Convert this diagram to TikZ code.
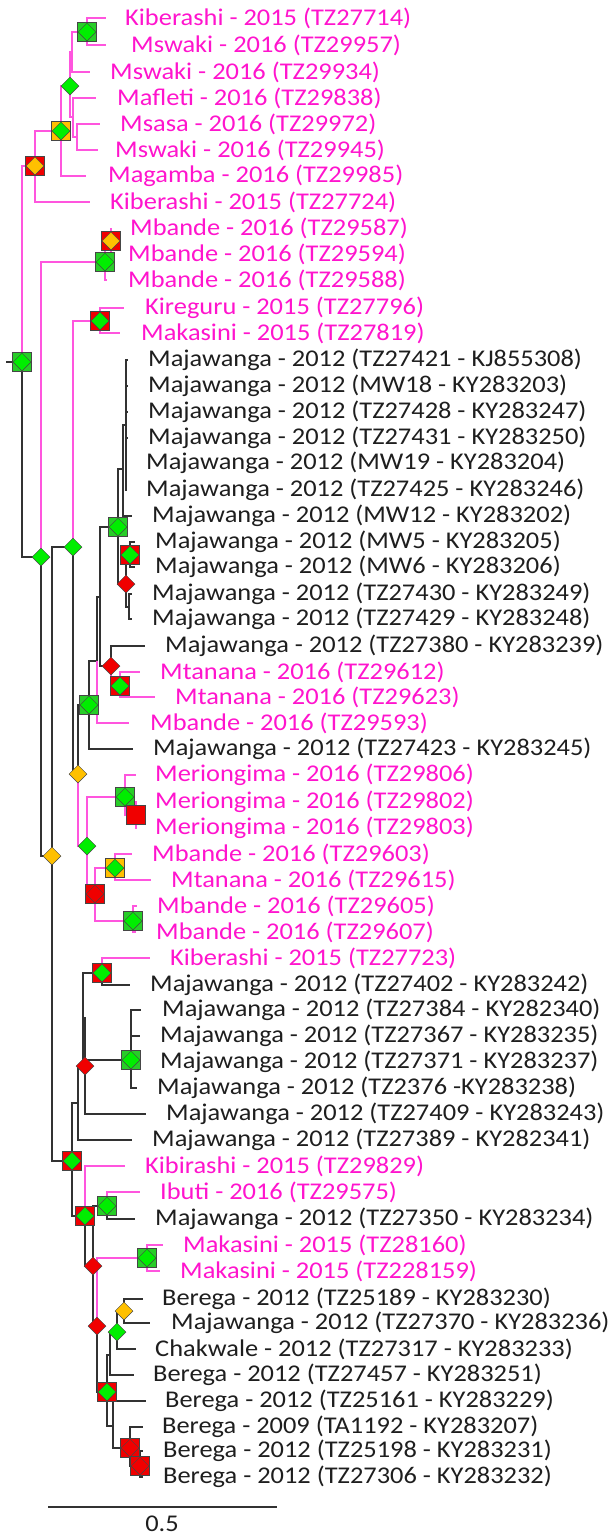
\documentclass[tikz,border=0pt]{standalone}
\usepackage{fontspec}
\setmainfont{Carlito}
\usetikzlibrary{shapes.geometric}
\definecolor{linegray}{RGB}{50,50,50}
\definecolor{textgray}{RGB}{30,30,30}
\definecolor{linepink}{RGB}{255,85,222}
\definecolor{textpink}{RGB}{255,20,205}
\definecolor{sqgreen}{RGB}{40,205,40}
\definecolor{dmgreen}{RGB}{0,238,0}
\definecolor{mkred}{RGB}{240,0,0}
\definecolor{mkorange}{RGB}{255,192,0}
\definecolor{mkedge}{RGB}{70,70,70}
\tikzset{
  blkline/.style={draw=linegray, line width=1.5pt},
  pnkline/.style={draw=linepink, line width=1.7pt},
  blktext/.style={text=textgray},
  pnktext/.style={text=textpink},
  labfont/.style={font=\fontsize{24}{28}\selectfont, xscale=1.1},
  lab/.style={anchor=west, inner sep=0pt, labfont},
  sqmark/.style={rectangle, draw=mkedge, line width=0.5pt, minimum size=19pt, inner sep=0pt},
  dmmark/.style={diamond, draw=mkedge, line width=0.5pt, minimum size=18pt, inner sep=0pt},
}
% tip: name, end x, y, label x, parent, colour key, text
\newcommand{\tip}[7]{%
  \coordinate (#1) at (#2,#3);
  \draw[#6line] (#5) |- (#1);
  \node[lab,#6text] (#1-l) at (#4,#3) {#7};}
% branch from parent to child
\newcommand{\br}[3]{\draw[#3line] (#1) |- (#2);}
% node symbols
\newcommand{\sqm}[2]{\node[sqmark,fill=#2] (#1-sq) at (#1) {};}
\newcommand{\dmm}[2]{\node[dmmark,fill=#2] (#1-dm) at (#1) {};}
\begin{document}
\begin{tikzpicture}[x=1pt,y=-1pt]
\useasboundingbox (0,0) rectangle (612,1537);
% internal nodes
\coordinate (rootstub) at (6,362);
\coordinate (root) at (22,362);
\coordinate (A) at (35,166);
\coordinate (A1) at (61,131);
\coordinate (A1a) at (70,86);
\coordinate (Aup) at (72,52);
\coordinate (K) at (87,32);
\coordinate (Alow) at (73,117);
\coordinate (Alow2) at (77,137);
\coordinate (B) at (41,557);
\coordinate (B1) at (105,262);
\coordinate (B1a) at (111,241);
\coordinate (B2) at (52,856);
\coordinate (B2a) at (73,547);
\coordinate (C1) at (100,321);
\coordinate (C2) at (78,774);
\coordinate (P) at (89,705);
\coordinate (Q) at (97,661);
\coordinate (R) at (100,597);
\coordinate (S) at (111,666);
\coordinate (M) at (120,686);
\coordinate (T) at (118,527);
\coordinate (U) at (123,469);
\coordinate (U1) at (126,425);
\coordinate (V) at (126,584);
\coordinate (W) at (130,555);
\coordinate (X) at (129,607);
\coordinate (D) at (87,846);
\coordinate (D1) at (125,797);
\coordinate (E) at (136,815);
\coordinate (D2) at (95,894);
\coordinate (F) at (115,868);
\coordinate (G) at (133,921);
\coordinate (B2b) at (72,1161);
\coordinate (H) at (78,1103);
\coordinate (Z) at (85,1066);
\coordinate (Z1) at (83,1018);
\coordinate (J) at (102,973);
\coordinate (L) at (131,1060);
\coordinate (I) at (85,1216);
\coordinate (I2) at (93,1266);
\coordinate (IB) at (107,1206);
\coordinate (I3) at (97,1326);
\coordinate (MK) at (147,1258);
\coordinate (I4) at (107,1392);
\coordinate (N5) at (110,1355);
\coordinate (GD) at (117,1332);
\coordinate (O) at (124,1311);
\coordinate (N6) at (113,1426);
\coordinate (N7) at (130,1448);
\coordinate (N8) at (140,1466);
% internal branches
\draw[blkline] (rootstub) -- (root);
\br{root}{A}{pnk} \br{root}{B}{blk}
\br{A}{A1}{pnk} \br{A1}{A1a}{pnk} \br{A1a}{Aup}{pnk} \br{A1a}{Alow}{pnk}
\br{Aup}{K}{pnk} \br{Alow}{Alow2}{pnk}
\br{B}{B1}{pnk} \br{B}{B2}{blk} \br{B1}{B1a}{pnk}
\br{B2}{B2a}{blk} \br{B2}{B2b}{blk}
\br{B2a}{C1}{pnk} \br{B2a}{C2}{blk}
\br{C2}{P}{blk} \br{C2}{D}{pnk}
\br{P}{Q}{blk} \br{Q}{R}{blk} \br{R}{T}{blk} \br{R}{S}{blk} \br{S}{M}{pnk}
\br{T}{U}{blk} \br{T}{V}{blk} \br{U}{U1}{blk} \br{V}{W}{blk} \br{V}{X}{blk}
\br{D}{D1}{pnk} \br{D}{D2}{pnk} \br{D1}{E}{pnk} \br{D2}{F}{pnk} \br{D2}{G}{pnk}
\br{B2b}{H}{blk} \br{B2b}{I}{blk} \br{H}{Z}{blk} \br{Z}{Z1}{blk}
\br{Z1}{J}{blk} \br{Z1}{L}{blk}
\br{I}{I2}{blk} \br{I2}{IB}{blk} \br{I2}{I3}{blk} \br{I3}{MK}{pnk} \br{I3}{I4}{blk}
\br{I4}{N5}{blk} \br{I4}{N6}{blk} \br{N5}{GD}{blk} \br{GD}{O}{blk}
\br{N6}{N7}{blk} \br{N7}{N8}{blk}
% tips
\tip{t1}{106}{18}{125}{K}{pnk}{Kiberashi - 2015 (TZ27714)}
\tip{t2}{106}{45}{131}{K}{pnk}{Mswaki - 2016 (TZ29957)}
\tip{t3}{90}{72}{110}{Aup}{pnk}{Mswaki - 2016 (TZ29934)}
\tip{t4}{96}{98}{117}{Alow}{pnk}{Mafleti - 2016 (TZ29838)}
\tip{t5}{100}{124}{120}{Alow2}{pnk}{Msasa - 2016 (TZ29972)}
\tip{t6}{98}{150}{115}{Alow2}{pnk}{Mswaki - 2016 (TZ29945)}
\tip{t7}{86}{176}{108}{A1}{pnk}{Magamba - 2016 (TZ29985)}
\tip{t8}{90}{202}{110}{A}{pnk}{Kiberashi - 2015 (TZ27724)}
\tip{t9}{111}{228}{130}{B1a}{pnk}{Mbande - 2016 (TZ29587)}
\tip{t10}{111}{254}{128}{B1a}{pnk}{Mbande - 2016 (TZ29594)}
\tip{t11}{107}{280}{128}{B1}{pnk}{Mbande - 2016 (TZ29588)}
\tip{t12}{124}{308}{145}{C1}{pnk}{Kireguru - 2015 (TZ27796)}
\tip{t13}{120}{333}{141}{C1}{pnk}{Makasini - 2015 (TZ27819)}
\tip{t14}{128}{360}{148}{U1}{blk}{Majawanga - 2012 (TZ27421 - KJ855308)}
\tip{t15}{128}{386}{148}{U1}{blk}{Majawanga - 2012 (MW18 - KY283203)}
\tip{t16}{128}{412}{148}{U1}{blk}{Majawanga - 2012 (TZ27428 - KY283247)}
\tip{t17}{128}{438}{148}{U1}{blk}{Majawanga - 2012 (TZ27431 - KY283250)}
\tip{t18}{127}{463}{146}{U1}{blk}{Majawanga - 2012 (MW19 - KY283204)}
\tip{t19}{127}{490}{146}{U1}{blk}{Majawanga - 2012 (TZ27425 - KY283246)}
\tip{t20}{132}{516}{152}{U}{blk}{Majawanga - 2012 (MW12 - KY283202)}
\tip{t21}{135}{542}{155}{W}{blk}{Majawanga - 2012 (MW5 - KY283205)}
\tip{t22}{135}{567}{155}{W}{blk}{Majawanga - 2012 (MW6 - KY283206)}
\tip{t23}{132}{594}{152}{X}{blk}{Majawanga - 2012 (TZ27430 - KY283249)}
\tip{t24}{132}{619}{152}{X}{blk}{Majawanga - 2012 (TZ27429 - KY283248)}
\tip{t25}{145}{646}{165}{S}{blk}{Majawanga - 2012 (TZ27380 - KY283239)}
\tip{t26}{140}{672}{160}{M}{pnk}{Mtanana - 2016 (TZ29612)}
\tip{t27}{155}{697}{175}{M}{pnk}{Mtanana - 2016 (TZ29623)}
\tip{t28}{129}{723}{150}{Q}{pnk}{Mbande - 2016 (TZ29593)}
\tip{t29}{133}{749}{153}{P}{blk}{Majawanga - 2012 (TZ27423 - KY283245)}
\tip{t30}{136}{775}{155}{D1}{pnk}{Meriongima - 2016 (TZ29806)}
\tip{t31}{137}{802}{155}{E}{pnk}{Meriongima - 2016 (TZ29802)}
\tip{t32}{137}{828}{155}{E}{pnk}{Meriongima - 2016 (TZ29803)}
\tip{t33}{132}{854}{152}{F}{pnk}{Mbande - 2016 (TZ29603)}
\tip{t34}{151}{880}{171}{F}{pnk}{Mtanana - 2016 (TZ29615)}
\tip{t35}{137}{906}{157}{G}{pnk}{Mbande - 2016 (TZ29605)}
\tip{t36}{136}{932}{156}{G}{pnk}{Mbande - 2016 (TZ29607)}
\tip{t37}{150}{958}{170}{J}{pnk}{Kiberashi - 2015 (TZ27723)}
\tip{t38}{130}{985}{150}{J}{blk}{Majawanga - 2012 (TZ27402 - KY283242)}
\tip{t39}{141}{1010}{162}{L}{blk}{Majawanga - 2012 (TZ27384 - KY282340)}
\tip{t40}{140}{1036}{160}{L}{blk}{Majawanga - 2012 (TZ27367 - KY283235)}
\tip{t41}{140}{1062}{160}{L}{blk}{Majawanga - 2012 (TZ27371 - KY283237)}
\tip{t42}{137}{1088}{157}{L}{blk}{Majawanga - 2012 (TZ2376 -KY283238)}
\tip{t43}{146}{1114}{166}{Z}{blk}{Majawanga - 2012 (TZ27409 - KY283243)}
\tip{t44}{132}{1140}{152}{H}{blk}{Majawanga - 2012 (TZ27389 - KY282341)}
\tip{t45}{125}{1166}{145}{I}{pnk}{Kibirashi - 2015 (TZ29829)}
\tip{t46}{140}{1192}{160}{IB}{pnk}{Ibuti - 2016 (TZ29575)}
\tip{t47}{135}{1219}{155}{IB}{blk}{Majawanga - 2012 (TZ27350 - KY283234)}
\tip{t48}{163}{1245}{183}{MK}{pnk}{Makasini - 2015 (TZ28160)}
\tip{t49}{160}{1271}{180}{MK}{pnk}{Makasini - 2015 (TZ228159)}
\tip{t50}{143}{1299}{162}{O}{blk}{Berega - 2012 (TZ25189 - KY283230)}
\tip{t51}{150}{1323}{171}{O}{blk}{Majawanga - 2012 (TZ27370 - KY283236)}
\tip{t52}{136}{1349}{155}{GD}{blk}{Chakwale - 2012 (TZ27317 - KY283233)}
\tip{t53}{134}{1375}{153}{N5}{blk}{Berega - 2012 (TZ27457 - KY283251)}
\tip{t54}{146}{1401}{165}{N6}{blk}{Berega - 2012 (TZ25161 - KY283229)}
\tip{t55}{143}{1427}{162}{N7}{blk}{Berega - 2009 (TA1192 - KY283207)}
\tip{t56}{143}{1451}{163}{N8}{blk}{Berega - 2012 (TZ25198 - KY283231)}
\tip{t57}{143}{1477}{163}{N8}{blk}{Berega - 2012 (TZ27306 - KY283232)}
% node symbols
\sqm{K}{sqgreen}\dmm{K}{dmgreen}
\dmm{A1a}{dmgreen}
\sqm{A1}{mkorange}\dmm{A1}{dmgreen}
\sqm{A}{mkred}\dmm{A}{mkorange}
\sqm{root}{sqgreen}\dmm{root}{dmgreen}
\sqm{B1a}{mkred}\dmm{B1a}{mkorange}
\sqm{B1}{sqgreen}\dmm{B1}{dmgreen}
\sqm{C1}{mkred}\dmm{C1}{dmgreen}
\dmm{B}{dmgreen}
\dmm{B2a}{dmgreen}
\sqm{T}{sqgreen}\dmm{T}{dmgreen}
\sqm{W}{mkred}\dmm{W}{dmgreen}
\dmm{V}{mkred}
\dmm{S}{mkred}
\sqm{M}{mkred}\dmm{M}{dmgreen}
\sqm{P}{sqgreen}\dmm{P}{dmgreen}
\dmm{C2}{mkorange}
\sqm{D1}{sqgreen}\dmm{D1}{dmgreen}
\sqm{E}{mkred}
\dmm{D}{dmgreen}
\dmm{B2}{mkorange}
\sqm{F}{mkorange}\dmm{F}{dmgreen}
\sqm{D2}{mkred}\dmm{D2}{mkred}
\sqm{G}{sqgreen}\dmm{G}{dmgreen}
\sqm{J}{mkred}\dmm{J}{dmgreen}
\sqm{L}{sqgreen}\dmm{L}{dmgreen}
\dmm{Z}{mkred}
\sqm{B2b}{mkred}\dmm{B2b}{dmgreen}
\sqm{IB}{sqgreen}\dmm{IB}{dmgreen}
\sqm{I}{mkred}\dmm{I}{dmgreen}
\dmm{I2}{mkred}
\sqm{MK}{sqgreen}\dmm{MK}{dmgreen}
\dmm{I3}{mkred}
\dmm{O}{mkorange}
\dmm{GD}{dmgreen}
\sqm{I4}{mkred}\dmm{I4}{dmgreen}
\sqm{N7}{mkred}\dmm{N7}{mkred}
\sqm{N8}{mkred}\dmm{N8}{mkred}
% scale bar
\coordinate (sb1) at (48,1507);
\coordinate (sb2) at (277,1507);
\draw[blkline, line width=1.2pt] (sb1) -- (sb2);
\node[blktext, inner sep=0pt, labfont] (sblab) at (162,1524) {0.5};
\end{tikzpicture}
\end{document}
